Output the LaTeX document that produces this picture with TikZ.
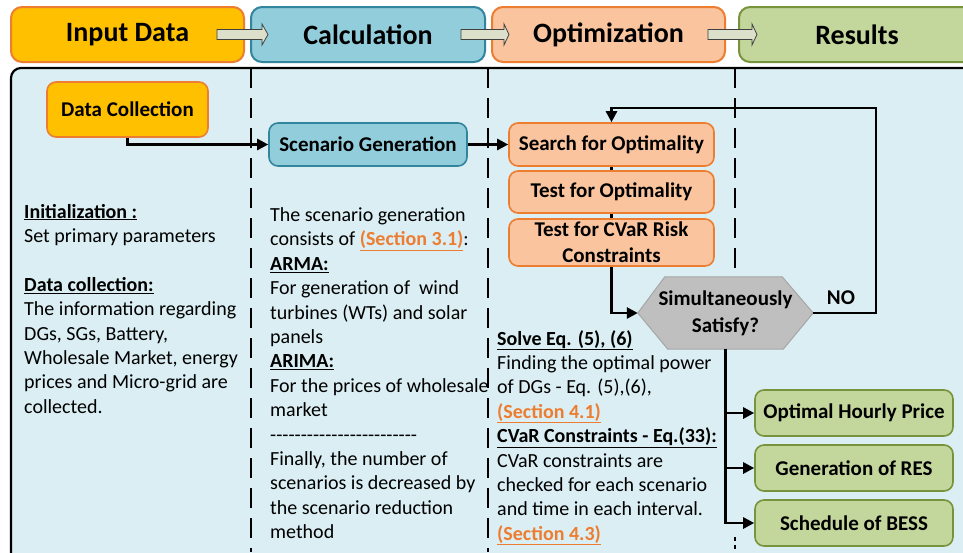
\documentclass[tikz,border=0pt]{standalone}
\usepackage{fontspec}
\setmainfont{Carlito}
\usetikzlibrary{arrows.meta}
\definecolor{bgblue}{HTML}{DAEEF3}
\definecolor{orfill}{HTML}{FFC000}
\definecolor{ordraw}{HTML}{ED7D31}
\definecolor{blfill}{HTML}{92CDDC}
\definecolor{bldraw}{HTML}{31859C}
\definecolor{pkfill}{HTML}{F9C49E}
\definecolor{grfill}{HTML}{C3D69B}
\definecolor{grdraw}{HTML}{77933C}
\definecolor{hexfill}{HTML}{BFBFBF}
\definecolor{hexdraw}{HTML}{A6A6A6}
\definecolor{barrow}{HTML}{DCDFC9}
\definecolor{linkor}{HTML}{ED7D31}
\newcommand\lnk[1]{\textcolor{linkor}{\textbf{\underline{#1}}}}
\newcommand\hd[1]{\textbf{\underline{#1}}}
\newcommand\hy{-{}}
\newcommand\hyphenrow{\hy\hy\hy\hy\hy\hy\hy\hy\hy\hy\hy\hy\hy\hy\hy\hy\hy\hy\hy\hy\hy\hy\hy\hy}
\newcommand\tline[4]{\node[txt] (#1) at (#2,#3) {#4};}
\newcommand\blockarr[3]{\draw[blockarrow] (#1,29.5) -- (#2,29.5) -- (#2,24) -- (#3,34.5) -- (#2,45) -- (#2,39.5) -- (#1,39.5) -- cycle;}
\tikzset{
 hdr/.style={draw, line width=2pt, rounded corners=11pt, inner sep=0pt, minimum height=55pt, font=\fontsize{28}{32}\selectfont\bfseries},
 stepbox/.style={draw, line width=1.6pt, rounded corners=9pt, inner sep=0pt, align=center, font=\fontsize{21}{26}\selectfont\bfseries},
 conn/.style={line width=2.6pt, -{Triangle[length=11pt,width=11pt]}},
 plain/.style={line width=2.6pt},
 txt/.style={anchor=base west, inner sep=0pt, font=\fontsize{20}{24.4}\selectfont},
 sep/.style={line width=2.2pt, dash pattern=on 20pt off 10pt},
 blockarrow/.style={fill=barrow, draw=black!75, line width=0.8pt},
}
\begin{document}
\begin{tikzpicture}[x=1pt,y=-1pt]
\useasboundingbox (0,0) rectangle (963,552);
\clip (0,0) rectangle (963,552);
\fill[white] (0,0) rectangle (963,552);
% main panel
\draw[fill=bgblue, line width=2.2pt, rounded corners=10pt] (11,68) rectangle (985,580);
% headers
\node[hdr, fill=orfill, draw=ordraw, minimum width=233pt] (h1) at (127.5,34.5) {Input Data};
\node[hdr, fill=blfill, draw=bldraw, minimum width=234pt] (h2) at (368,34.5) {Calculation};
\node[hdr, fill=pkfill, draw=ordraw, minimum width=233pt] (h3) at (608.5,34.5) {Optimization};
\node[hdr, fill=grfill, draw=grdraw, minimum width=236pt] (h4) at (857,34.5) {Results};
\blockarr{217}{262}{268}
\blockarr{461}{504}{509}
\blockarr{708}{752}{757}
% column separators
\draw[sep] (251,68) -- (251,552);
\draw[sep] (488,68) -- (488,552);
\draw[sep] (735,68) -- (735,277);
\draw[line width=2.2pt, dash pattern=on 4pt off 4pt] (735,537) -- (735,552);
% process nodes
\node[stepbox, fill=orfill, draw=ordraw, minimum width=161pt, minimum height=55pt] (dc) at (127.5,109.5) {Data Collection};
\node[stepbox, fill=blfill, draw=bldraw, minimum width=198pt, minimum height=43pt] (sg) at (368,144.5) {Scenario Generation};
\node[stepbox, fill=pkfill, draw=ordraw, minimum width=205pt, minimum height=43pt] (so) at (611.5,144.5) {Search for Optimality};
\node[stepbox, fill=pkfill, draw=ordraw, minimum width=205pt, minimum height=42pt] (to) at (611.5,192) {Test for Optimality};
\node[stepbox, fill=pkfill, draw=ordraw, minimum width=205pt, minimum height=47pt] (cv) at (611.5,242.5) {Test for CVaR Risk\\Constraints};
% decision hexagon
\node[minimum width=175pt, minimum height=72pt, inner sep=0pt] (hex) at (725.5,313) {};
\draw[fill=hexfill, draw=hexdraw, line width=1pt] (hex.west) -- ([xshift=27pt]hex.north west) -- ([xshift=-31pt]hex.north east) -- (hex.east) -- ([xshift=-30pt]hex.south east) -- ([xshift=30pt]hex.south west) -- cycle;
\node[inner sep=0pt, align=center, font=\fontsize{21}{27}\selectfont\bfseries] (hext) at (hex.center) {Simultaneously\\Satisfy?};
\node[stepbox, fill=grfill, draw=grdraw, minimum width=198pt, minimum height=46pt] (r1) at (854,413) {Optimal Hourly Price};
\node[stepbox, fill=grfill, draw=grdraw, minimum width=198pt, minimum height=46pt] (r2) at (854,468) {Generation of RES};
\node[stepbox, fill=grfill, draw=grdraw, minimum width=198pt, minimum height=46pt] (r3) at (854,523) {Schedule of BESS};
\node[inner sep=0pt, font=\fontsize{21}{26}\selectfont\bfseries] (no) at (841,298) {NO};
% connectors
\draw[conn] (dc.south) |- (sg.west);
\draw[conn] (sg.east) -- (so.west);
\draw[plain] (so.south) -- (to.north);
\draw[plain] (to.south) -- (cv.north);
\draw[conn] (cv.south) |- (hex.west);
\coordinate (loop) at (876,108);
\draw[conn] (hex.east) -| (loop) -| (so.north);
\draw[conn] (hex.south) |- (r3.west);
\draw[conn] (hex.south |- r1.west) -- (r1.west);
\draw[conn] (hex.south |- r2.west) -- (r2.west);
% column 1 text
\tline{a1}{24}{218}{\hd{Initialization :}}
\tline{a2}{24}{242.4}{Set primary parameters}
\tline{a3}{24}{291.2}{\hd{Data collection:}}
\tline{a4}{24}{315.6}{The information regarding}
\tline{a5}{24}{340}{DGs, SGs, Battery,}
\tline{a6}{24}{364.4}{Wholesale Market, energy}
\tline{a7}{24}{388.8}{prices and Micro-grid are}
\tline{a8}{24}{413.2}{collected.}
% column 2 text
\tline{b1}{270}{221.5}{The scenario generation}
\tline{b2}{270}{245.9}{consists of \lnk{(Section 3.1)}:}
\tline{b3}{270}{270.3}{\hd{ARMA:}}
\tline{b4}{270}{294.7}{For generation of~ wind}
\tline{b5}{270}{319.1}{turbines (WTs) and solar}
\tline{b6}{270}{343.5}{panels}
\tline{b7}{270}{367.9}{\hd{ARIMA:}}
\tline{b8}{270}{392.3}{For the prices of wholesale}
\tline{b9}{270}{416.7}{market}
\tline{b10}{270}{441.1}{\hyphenrow}
\tline{b11}{270}{465.5}{Finally, the number of}
\tline{b12}{270}{489.9}{scenarios is decreased by}
\tline{b13}{270}{514.3}{the scenario reduction}
\tline{b14}{270}{538.7}{method}
% column 3 text
\tline{c1}{497}{345}{\hd{Solve Eq. (5), (6)}}
\tline{c2}{497}{369.4}{Finding the optimal power}
\tline{c3}{497}{393.8}{of DGs - Eq. (5),(6),}
\tline{c4}{497}{418.2}{\lnk{(Section 4.1)}}
\tline{c5}{497}{442.6}{\hd{CVaR Constraints - Eq.(33):}}
\tline{c6}{497}{467}{CVaR constraints are}
\tline{c7}{497}{491.4}{checked for each scenario}
\tline{c8}{497}{515.8}{and time in each interval.}
\tline{c9}{497}{540.2}{\lnk{(Section 4.3)}}
\end{tikzpicture}
\end{document}
